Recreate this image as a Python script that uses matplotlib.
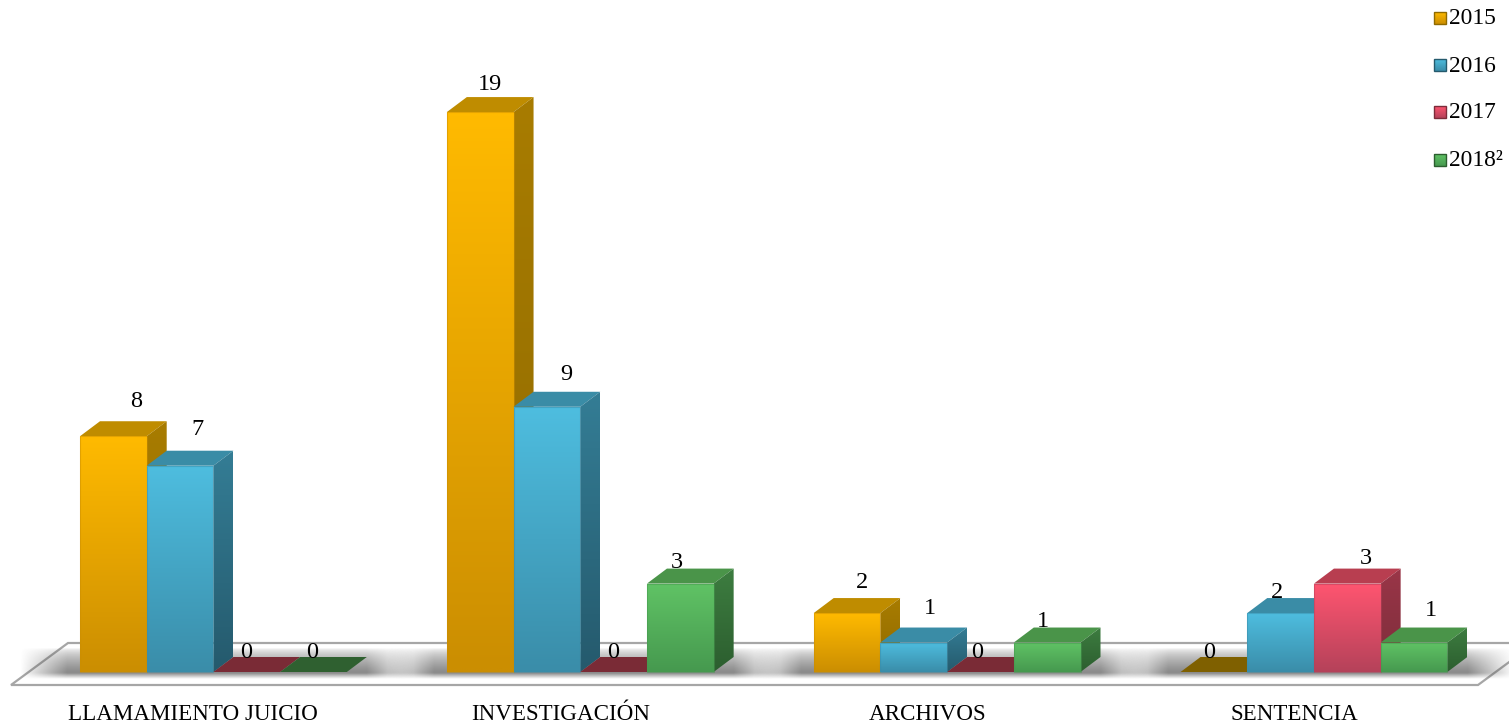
import numpy as np
import matplotlib
matplotlib.use("Agg")
import matplotlib.pyplot as plt
from matplotlib.colors import to_rgb
from matplotlib.patches import Polygon

plt.rcParams['font.family'] = ['Liberation Serif', 'DejaVu Serif']

categories = ["LLAMAMIENTO JUICIO", "INVESTIGACIÓN", "ARCHIVOS", "SENTENCIA"]
years = ["2015", "2016", "2017", "2018²"]
v_2015 = [8, 19, 2, 0]
v_2016 = [7, 9, 1, 2]
v_2017 = [0, 0, 0, 3]
v_2018 = [0, 3, 1, 1]

# face colours per series: front top/bottom, top face, side top/bottom, flat (zero) bar
colors = [
    ("#FFBA00", "#CB8E02", "#BF8C00", "#A87C00", "#8F6A00", "#7F6000"),
    ("#4EBDDF", "#3A8DA9", "#3A8CA6", "#347D95", "#255A6D", "#2F7A90"),
    ("#FF5570", "#B5425A", "#B83E50", "#9A3648", "#7C2C3A", "#7A2B36"),
    ("#60C365", "#46994F", "#4A9449", "#3D7D40", "#2C5E2F", "#2F6030"),
]

# label nudges in pixels from the top front edge of each bar (they were hand placed)
nudge = [
    [(23, 35), (10, 28), (15, 31), (-5, 20)],
    [(17, 36), (19, 32), (16, 34), (-4, 21)],
    [(-1, 20), (0, 20), (-3, 20), (19, 25)],
    [(-1, 20), (-3, 21), (-4, 21), (17, 32)],
]

W, H = 1509, 723
BAR_PX = 66.7
UNIT_PX = 29.47
X0_PX, BASE_PX = 80, 672
GROUP_STEP = 5.5
DX = 20 / BAR_PX
DY = 15 / UNIT_PX

fig = plt.figure(figsize=(W / 100, H / 100), dpi=100)
ax = fig.add_axes([0, 0, 1, 1])
ax.set_axis_off()
xlim = (-X0_PX / BAR_PX, (W - X0_PX) / BAR_PX)
ylim = ((BASE_PX - H) / UNIT_PX, BASE_PX / UNIT_PX)


def px(x, y):
    return (x - X0_PX) / BAR_PX, (BASE_PX - y) / UNIT_PX


def gradient(verts, top, bottom, z):
    verts = np.array(verts)
    t = np.linspace(0, 1, 64)[:, None, None]
    img = np.array(to_rgb(top))[None, None, :] * (1 - t) + np.array(to_rgb(bottom))[None, None, :] * t
    ext = (verts[:, 0].min(), verts[:, 0].max(), verts[:, 1].min(), verts[:, 1].max())
    im = ax.imshow(img, extent=ext, origin="upper", aspect="auto", zorder=z, interpolation="bilinear")
    im.set_clip_path(Polygon(verts, closed=True, transform=ax.transData))


# floor
floor = [px(11, 685), px(68, 643), px(1535, 643), px(1478, 685)]
ax.add_patch(Polygon(floor, closed=True, fc="white", ec="#A6A6A6", lw=1.6, zorder=1))

# soft shadow under each group
for g in range(len(categories)):
    x1 = g * GROUP_STEP - 0.45
    x2 = g * GROUP_STEP + 4 + 0.55
    xs = np.linspace(x1 - 0.6, x2 + 0.6, 300)
    ys = np.linspace(-0.35, 1.0, 80)
    ax_x = np.clip((xs - x1 + 0.45) / 0.7, 0, 1) * np.clip((x2 + 0.45 - xs) / 0.7, 0, 1)
    ax_y = np.clip((ys + 0.25) / 0.2, 0, 1) * np.clip((0.8 - ys) / 0.8, 0, 1) ** 0.6
    rgba = np.zeros((80, 300, 4))
    rgba[..., :3] = 0.3
    rgba[..., 3] = np.outer(ax_y, ax_x) * 0.65
    ax.imshow(rgba, extent=(xs[0], xs[-1], ys[0], ys[-1]), origin="lower", aspect="auto",
              zorder=1.5, interpolation="bilinear")

series = [v_2015, v_2016, v_2017, v_2018]
z = 2
for g in range(len(categories)):
    for s, vals in enumerate(series):
        v = vals[g]
        c = colors[s]
        x = g * GROUP_STEP + s
        top_face = [(x, v), (x + DX, v + DY), (x + 1 + DX, v + DY), (x + 1, v)]
        if v == 0:
            ax.add_patch(Polygon(top_face, closed=True, fc=c[5], ec="none", zorder=z))
        else:
            ax.add_patch(Polygon(top_face, closed=True, fc=c[2], ec="none", zorder=z))
            side = [(x + 1, 0), (x + 1 + DX, DY), (x + 1 + DX, v + DY), (x + 1, v)]
            gradient(side, c[3], c[4], z)
            gradient([(x, 0), (x + 1, 0), (x + 1, v), (x, v)], c[0], c[1], z + 0.1)
            ax.bar(x, v, width=1, align="edge", color="none", edgecolor=c[1], linewidth=0.8,
                   alpha=0.5, zorder=z + 0.15)
        z += 0.2
        dx, dy = nudge[s][g]
        ax.annotate(str(v), (x + 0.5, v), xytext=(dx, dy), textcoords="offset pixels",
                    ha="center", va="center", fontsize=17.5, color="black", zorder=50)

for g, name in enumerate(categories):
    ax.annotate(name, (g * GROUP_STEP + 2, 0), xytext=(-20, -42), textcoords="offset pixels",
                ha="center", va="center", fontsize=16.6, color="black", zorder=50)

# legend
legend_y = [18, 65, 112, 160]
for s, name in enumerate(years):
    y = legend_y[s]
    x1, y1 = px(1434, y + 6)
    x2, y2 = px(1446, y - 6)
    gradient([(x1, y1), (x2, y1), (x2, y2), (x1, y2)], colors[s][0], colors[s][1], 60)
    ax.add_patch(Polygon([(x1, y1), (x2, y1), (x2, y2), (x1, y2)], closed=True, fc="none",
                         ec=colors[s][4], lw=1, zorder=61))
    tx, ty = px(1449, y + 1)
    ax.text(tx, ty, name, ha="left", va="center", fontsize=16.9, color="black", zorder=60)

ax.set_xlim(xlim)
ax.set_ylim(ylim)
fig.savefig("out.png", dpi=100)
